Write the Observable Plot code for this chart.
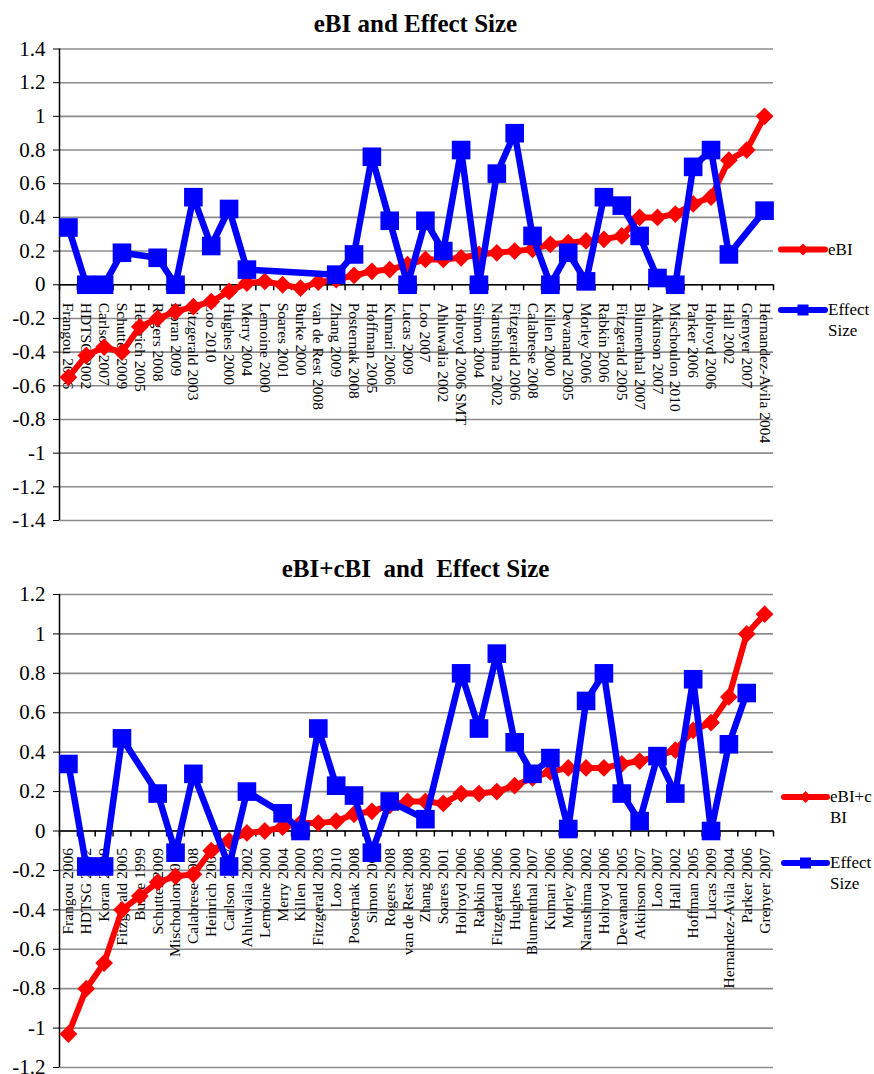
<!DOCTYPE html>
<html>
<head>
<meta charset="utf-8">
<script src="https://cdn.jsdelivr.net/npm/d3@7"></script>
<script src="https://cdn.jsdelivr.net/npm/@observablehq/plot@0.6"></script>
<style>
  body { margin: 0; background: #fff; }
  #wrap { position: relative; width: 874px; height: 1074px; overflow: hidden; font-family: "Liberation Serif", serif; }
  #wrap > svg { position: absolute; left: 0; overflow: visible; }
</style>
</head>
<body>
<div id="wrap"></div>
<script>
// ---------- Top chart data ----------
const topTitle = "eBI and Effect Size";
const topCategories = ["Frangou 2006","HDTSG 2002","Carlson 2007","Schutter 2009","Heinrich 2005","Rogers 2008","Koran 2009","Fitzgerald 2003","Loo 2010","Hughes 2000","Merry 2004","Lemoine 2000","Soares 2001","Burke 2000","van de Rest 2008","Zhang 2009","Posternak 2008","Hoffman 2005","Kumari 2006","Lucas 2009","Loo 2007","Ahluwalia 2002","Holroyd 2006 SMT","Simon 2004","Narushima 2002","Fitzgerald 2006","Calabrese 2008","Killen 2000","Devanand 2005","Morley 2006","Rabkin 2006","Fitzgerald 2005","Blumenthal 2007","Atkinson 2007","Mischoulon 2010","Parker 2006","Holroyd 2006","Hall 2002","Grenyer 2007","Hernandez-Avila 2004"];
const topEBI = [-0.55,-0.42,-0.37,-0.40,-0.25,-0.20,-0.16,-0.13,-0.10,-0.04,0.01,0.02,0.00,-0.02,0.015,0.03,0.055,0.08,0.09,0.12,0.15,0.15,0.16,0.18,0.19,0.20,0.21,0.24,0.25,0.26,0.27,0.29,0.40,0.40,0.42,0.48,0.52,0.74,0.80,1.00];
const topEffect = [0.34,0,0,0.19,null,0.16,0,0.52,0.23,0.45,0.09,null,null,null,null,0.06,0.18,0.76,0.38,0,0.38,0.20,0.80,0,0.66,0.90,0.29,0,0.19,0.02,0.52,0.47,0.29,0.04,0,0.70,0.80,0.18,null,0.44];
const topYTicks = [-1.4,-1.2,-1,-0.8,-0.6,-0.4,-0.2,0,0.2,0.4,0.6,0.8,1,1.2,1.4];
const topLegend = ["eBI", "Effect Size"];

// ---------- Bottom chart data ----------
const bottomTitle = "eBI+cBI  and  Effect Size";
const bottomCategories = ["Frangou 2006","HDTSG 2002","Koran 2009","Fitzgerald 2005","Burke 1999","Schutter 2009","Mischoulon 2010","Calabrese 2008","Heinrich 2005","Carlson 2007","Ahluwalia 2002","Lemoine 2000","Merry 2004","Killen 2000","Fitzgerald 2003","Loo 2010","Posternak 2008","Simon 2004","Rogers 2008","van de Rest 2008","Zhang 2009","Soares 2001","Holroyd 2006","Rabkin 2006","Fitzgerald 2006","Hughes 2000","Blumenthal 2007","Kumari 2006","Morley 2006","Narushima 2002","Holroyd 2006","Devanand 2005","Atkinson 2007","Loo 2007","Hall 2002","Hoffman 2005","Lucas 2009","Hernandez-Avila 2004","Parker 2006","Grenyer 2007"];
const bottomEBI = [-1.03,-0.80,-0.67,-0.40,-0.33,-0.26,-0.23,-0.22,-0.10,-0.05,-0.01,0.00,0.02,0.04,0.04,0.05,0.085,0.10,0.13,0.15,0.15,0.14,0.19,0.19,0.20,0.23,0.27,0.30,0.32,0.32,0.32,0.34,0.355,0.38,0.41,0.51,0.55,0.68,1.00,1.10];
const bottomEffect = [0.34,-0.18,-0.18,0.47,null,0.19,-0.11,0.29,null,-0.18,0.20,null,0.09,0,0.52,0.23,0.18,-0.11,0.15,null,0.06,null,0.80,0.52,0.90,0.45,0.29,0.37,0.01,0.66,0.80,0.19,0.05,0.38,0.19,0.77,0,0.44,0.70,null];
const bottomYTicks = [-1.2,-1,-0.8,-0.6,-0.4,-0.2,0,0.2,0.4,0.6,0.8,1,1.2];
const bottomLegend = ["eBI+c|BI", "Effect Size"];

const RED = "#ff0000", BLUE = "#0000ff";
const fmt = d => String(+d.toFixed(1));
const diamondSym = d3.symbolDiamond2 || "diamond";

function chart({cats, ebi, eff, yTicks, height, marginTop, marginBottom, labelRotate, labelAnchor, labelOffset}) {
  const rows = cats.map((c, i) => ({i, label: c, ebi: ebi[i], eff: eff[i]}));
  const effRows = rows.filter(d => d.eff != null);
  const bounds = d3.range(cats.length + 1).map(k => k - 0.5);
  const yDomain = [yTicks[0], yTicks[yTicks.length - 1]];
  const pxPerUnit = (height - marginTop - marginBottom) / (yDomain[1] - yDomain[0]);
  const tickLen = 6 / pxPerUnit;
  return Plot.plot({
    width: 874, height, marginTop, marginBottom, marginLeft: 59, marginRight: 101,
    style: {fontFamily: "Liberation Serif, serif", fontSize: "21px", color: "#000", background: "none", overflow: "visible"},
    x: {type: "linear", domain: [-0.5, cats.length - 0.5], axis: null},
    y: {domain: yDomain, ticks: yTicks, tickFormat: fmt, tickSize: 6, tickPadding: 8, label: null},
    marks: [
      Plot.ruleY(yTicks, {stroke: "#8c8c8c", strokeWidth: 1.6}),
      Plot.ruleX([-0.5], {stroke: "#000", strokeWidth: 1.5}),
      Plot.ruleY([0], {stroke: "#000", strokeWidth: 1.5}),
      Plot.ruleX(bounds, {x: d => d, y1: () => 0, y2: () => -tickLen, stroke: "#000", strokeWidth: 1.5}),
      Plot.text(rows, {x: "i", y: () => 0, text: "label", rotate: labelRotate, textAnchor: labelAnchor, dy: labelOffset, fontSize: 15.5, fill: "#000"}),
      Plot.line(rows, {x: "i", y: "ebi", stroke: RED, strokeWidth: 6, strokeLinejoin: "round"}),
      Plot.dot(rows, {x: "i", y: "ebi", symbol: diamondSym, r: 8, fill: RED, stroke: "none"}),
      Plot.line(effRows, {x: "i", y: "eff", stroke: BLUE, strokeWidth: 6.5, strokeLinejoin: "round"}),
      Plot.dot(effRows, {x: "i", y: "eff", symbol: "square", r: 10.5, fill: BLUE, stroke: "none"})
    ]
  });
}

const wrap = document.getElementById("wrap");

const topChart = chart({cats: topCategories, ebi: topEBI, eff: topEffect, yTicks: topYTicks,
  height: 545, marginTop: 48.5, marginBottom: 25, labelRotate: 90, labelAnchor: "start", labelOffset: 18});
topChart.style.top = "0px";
wrap.appendChild(topChart);

const bottomChart = chart({cats: bottomCategories, ebi: bottomEBI, eff: bottomEffect, yTicks: bottomYTicks,
  height: 529, marginTop: 49, marginBottom: 7, labelRotate: -90, labelAnchor: "end", labelOffset: 17});
bottomChart.style.top = "545px";
wrap.appendChild(bottomChart);

// ---------- Titles and legends (overlay) ----------
const ov = d3.create("svg").attr("width", 874).attr("height", 1074).style("top", "0px")
  .attr("font-family", "Liberation Serif, serif");
function title(text, y) {
  ov.append("text").attr("x", 415.5).attr("y", y).attr("text-anchor", "middle")
    .attr("font-weight", "bold").attr("font-size", 25).style("white-space", "pre").text(text);
}
title(topTitle, 31.5);
title(bottomTitle, 577);

function legendItem(x1, x2, y, color, kind, label, tx) {
  ov.append("line").attr("x1", x1).attr("x2", x2).attr("y1", y).attr("y2", y)
    .attr("stroke", color).attr("stroke-width", 6).attr("stroke-linecap", "round");
  const mx = (x1 + x2) / 2;
  if (kind === "diamond") {
    ov.append("path").attr("transform", `translate(${mx},${y})`)
      .attr("d", d3.symbol(diamondSym, 90)()).attr("fill", color);
  } else {
    ov.append("rect").attr("x", mx - 5.5).attr("y", y - 5.5).attr("width", 11).attr("height", 11).attr("fill", color);
  }
  const lines = label.split(/[| ]/);
  lines.forEach((t, k) => {
    ov.append("text").attr("x", tx).attr("y", y + k * 21).attr("dy", "0.32em")
      .attr("font-size", 17).text(t);
  });
}
legendItem(781, 825, 249.5, RED, "diamond", topLegend[0], 828);
legendItem(781, 825, 310, BLUE, "square", topLegend[1], 828);
legendItem(784, 827, 797, RED, "diamond", bottomLegend[0], 830);
legendItem(784, 827, 863, BLUE, "square", bottomLegend[1], 830);
wrap.appendChild(ov.node());
</script>
</body>
</html>
